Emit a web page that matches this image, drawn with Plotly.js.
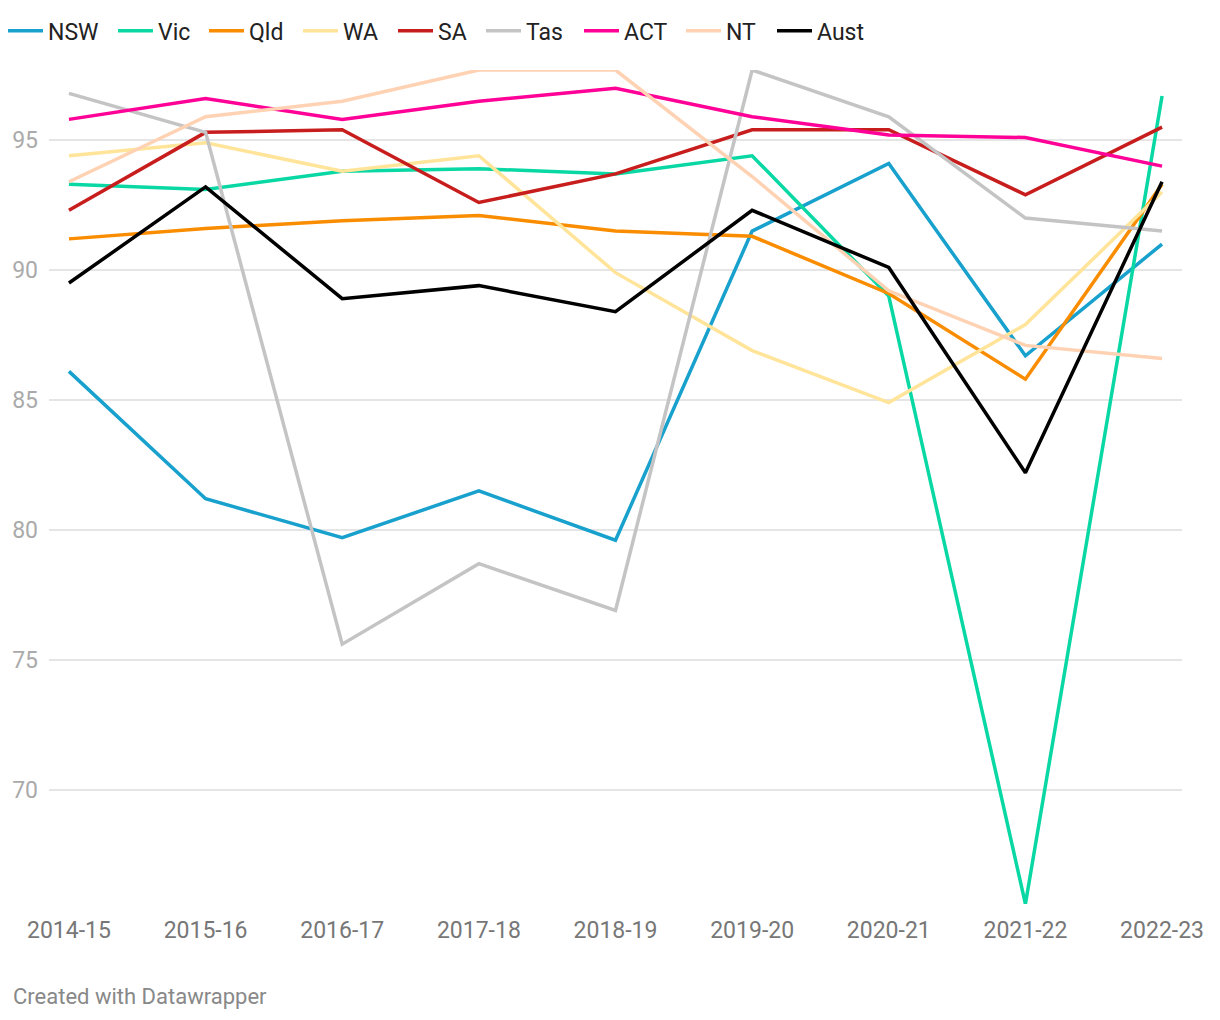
<!DOCTYPE html>
<html>
<head>
<meta charset="utf-8">
<script src="https://cdn.plot.ly/plotly-3.0.1.min.js"></script>
<style>
  html, body { margin: 0; padding: 0; background: #fff; }
  #chart { width: 1220px; height: 1020px; }
</style>
</head>
<body>
<div id="chart"></div>
<script>
const years = ["2014-15", "2015-16", "2016-17", "2017-18", "2018-19", "2019-20", "2020-21", "2021-22", "2022-23"];

const NSW  = [86.1, 81.2, 79.7, 81.5, 79.6, 91.5, 94.1, 86.7, 91.0];
const Vic  = [93.3, 93.1, 93.8, 93.9, 93.7, 94.4, 89.0, 65.6, 96.7];
const Qld  = [91.2, 91.6, 91.9, 92.1, 91.5, 91.3, 89.1, 85.8, 93.3];
const WA   = [94.4, 94.9, 93.8, 94.4, 89.9, 86.9, 84.9, 87.9, 93.0];
const SA   = [92.3, 95.3, 95.4, 92.6, 93.7, 95.4, 95.4, 92.9, 95.5];
const Tas  = [96.8, 95.3, 75.6, 78.7, 76.9, 97.7, 95.9, 92.0, 91.5];
const ACT  = [95.8, 96.6, 95.8, 96.5, 97.0, 95.9, 95.2, 95.1, 94.0];
const NT   = [93.4, 95.9, 96.5, 97.7, 97.7, 93.6, 89.2, 87.1, 86.6];
const Aust = [89.5, 93.2, 88.9, 89.4, 88.4, 92.3, 90.1, 82.2, 93.4];

const seriesNames = ["NSW", "Vic", "Qld", "WA", "SA", "Tas", "ACT", "NT", "Aust"];
const seriesValues = [NSW, Vic, Qld, WA, SA, Tas, ACT, NT, Aust];
const seriesColors = ["#18a1cd", "#09d8a4", "#fa8c00", "#ffe49a", "#c71e1d", "#c4c4c4", "#ff0197", "#fed2b3", "#000000"];

const yTicks = [70, 75, 80, 85, 90, 95];

// legend entry positions (pixels from left edge of the page)
const legendX = [3, 113, 204, 298, 393, 481, 579, 681, 772];

const traces = seriesNames.map((name, i) => ({
  type: "scatter",
  mode: "lines",
  name: name,
  x: years,
  y: seriesValues[i],
  legend: i === 0 ? "legend" : "legend" + (i + 1),
  line: { color: seriesColors[i], width: 3.5, shape: "linear" },
  hoverinfo: "x+y+name"
}));

const layout = {
  width: 1220,
  height: 1020,
  paper_bgcolor: "#ffffff",
  plot_bgcolor: "#ffffff",
  font: { family: "Roboto, 'Noto Sans', sans-serif", size: 22, color: "#333" },
  margin: { l: 49, r: 38, t: 70, b: 116 },
  showlegend: true,
  xaxis: {
    type: "category",
    range: [-0.146, 8.146],
    showgrid: false,
    zeroline: false,
    showline: false,
    ticks: "",
    tickfont: { size: 23, color: "#777777" },
    ticklabelstandoff: 10,
    fixedrange: true
  },
  yaxis: {
    range: [65.6, 97.7],
    tickvals: yTicks,
    ticktext: yTicks.map(String),
    showgrid: true,
    gridcolor: "#e5e5e5",
    gridwidth: 2,
    zeroline: false,
    showline: false,
    ticks: "",
    tickfont: { size: 23, color: "#aaaaaa" },
    ticklabelstandoff: 10,
    fixedrange: true
  },
  annotations: [{
    text: "Created with Datawrapper",
    xref: "paper",
    yref: "paper",
    x: (11 - 49) / 1133,
    xanchor: "left",
    y: -(996 - 904) / 834,
    yanchor: "middle",
    showarrow: false,
    font: { size: 22, color: "#888888", family: "Roboto, sans-serif" }
  }]
};

legendX.forEach((px, i) => {
  const key = i === 0 ? "legend" : "legend" + (i + 1);
  layout[key] = {
    orientation: "h",
    xref: "container",
    yref: "container",
    x: px / 1220,
    xanchor: "left",
    y: 0.991,
    yanchor: "top",
    font: { size: 23, color: "#222", family: "Roboto, sans-serif" },
    itemwidth: 35,
    bgcolor: "rgba(0,0,0,0)"
  };
});

Plotly.newPlot("chart", traces, layout, { displayModeBar: false, staticPlot: true });
</script>
</body>
</html>
